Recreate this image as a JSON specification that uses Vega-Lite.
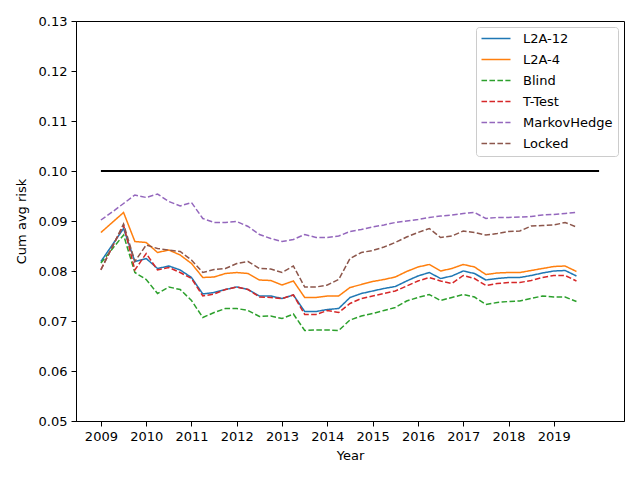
{
  "$schema": "https://vega.github.io/schema/vega-lite/v6.json",
  "width": 548,
  "height": 400,
  "autosize": "none",
  "padding": {"left": 76, "top": 21, "right": 16, "bottom": 59},
  "config": {
    "font": "DejaVu Sans",
    "view": {"stroke": "black", "strokeWidth": 1},
    "axis": {
      "grid": false,
      "domainColor": "black",
      "tickColor": "black",
      "labelColor": "black",
      "titleColor": "black",
      "labelFontSize": 13,
      "titleFontSize": 13,
      "titleFontWeight": "normal",
      "tickSize": 5,
      "labelPadding": 4,
      "labelFont": "DejaVu Sans",
      "titleFont": "DejaVu Sans"
    },
    "legend": {
      "orient": "top-right",
      "offset": 6,
      "padding": 5,
      "strokeColor": "#cccccc",
      "fillColor": "white",
      "cornerRadius": 3,
      "symbolType": "M-1.2,0H4.6",
      "symbolSize": 100,
      "symbolStrokeWidth": 1.5,
      "labelFontSize": 13,
      "labelFont": "DejaVu Sans",
      "labelColor": "black",
      "rowPadding": 7,
      "labelOffset": 29
    }
  },
  "layer": [
    {
      "data": {"values": [
        {"year": 2009.00, "L2A-12": 0.0819, "L2A-4": 0.0877, "Blind": 0.0816, "T-Test": 0.0803, "MarkovHedge": 0.0902, "Locked": 0.0802},
        {"year": 2009.25, "L2A-12": 0.0852, "L2A-4": 0.0897, "Blind": 0.0844, "T-Test": 0.0848, "MarkovHedge": 0.0918, "Locked": 0.0848},
        {"year": 2009.50, "L2A-12": 0.0885, "L2A-4": 0.0917, "Blind": 0.0872, "T-Test": 0.0892, "MarkovHedge": 0.0935, "Locked": 0.0894},
        {"year": 2009.75, "L2A-12": 0.0819, "L2A-4": 0.0859, "Blind": 0.0797, "T-Test": 0.0802, "MarkovHedge": 0.0952, "Locked": 0.0819},
        {"year": 2010.00, "L2A-12": 0.0825, "L2A-4": 0.0857, "Blind": 0.0783, "T-Test": 0.0835, "MarkovHedge": 0.0947, "Locked": 0.0852},
        {"year": 2010.25, "L2A-12": 0.0805, "L2A-4": 0.0837, "Blind": 0.0755, "T-Test": 0.0802, "MarkovHedge": 0.0954, "Locked": 0.0845},
        {"year": 2010.50, "L2A-12": 0.0810, "L2A-4": 0.0842, "Blind": 0.0768, "T-Test": 0.0807, "MarkovHedge": 0.0939, "Locked": 0.0842},
        {"year": 2010.75, "L2A-12": 0.0802, "L2A-4": 0.0832, "Blind": 0.0763, "T-Test": 0.0797, "MarkovHedge": 0.0930, "Locked": 0.0839},
        {"year": 2011.00, "L2A-12": 0.0787, "L2A-4": 0.0815, "Blind": 0.0741, "T-Test": 0.0785, "MarkovHedge": 0.0937, "Locked": 0.0822},
        {"year": 2011.25, "L2A-12": 0.0754, "L2A-4": 0.0787, "Blind": 0.0707, "T-Test": 0.0750, "MarkovHedge": 0.0905, "Locked": 0.0797},
        {"year": 2011.50, "L2A-12": 0.0757, "L2A-4": 0.0788, "Blind": 0.0717, "T-Test": 0.0754, "MarkovHedge": 0.0897, "Locked": 0.0803},
        {"year": 2011.75, "L2A-12": 0.0763, "L2A-4": 0.0795, "Blind": 0.0725, "T-Test": 0.0763, "MarkovHedge": 0.0897, "Locked": 0.0805},
        {"year": 2012.00, "L2A-12": 0.0768, "L2A-4": 0.0797, "Blind": 0.0725, "T-Test": 0.0768, "MarkovHedge": 0.0899, "Locked": 0.0815},
        {"year": 2012.25, "L2A-12": 0.0763, "L2A-4": 0.0795, "Blind": 0.0721, "T-Test": 0.0763, "MarkovHedge": 0.0889, "Locked": 0.0819},
        {"year": 2012.50, "L2A-12": 0.0750, "L2A-4": 0.0782, "Blind": 0.0709, "T-Test": 0.0748, "MarkovHedge": 0.0873, "Locked": 0.0805},
        {"year": 2012.75, "L2A-12": 0.0750, "L2A-4": 0.0781, "Blind": 0.0710, "T-Test": 0.0747, "MarkovHedge": 0.0865, "Locked": 0.0804},
        {"year": 2013.00, "L2A-12": 0.0745, "L2A-4": 0.0772, "Blind": 0.0705, "T-Test": 0.0745, "MarkovHedge": 0.0859, "Locked": 0.0797},
        {"year": 2013.25, "L2A-12": 0.0752, "L2A-4": 0.0780, "Blind": 0.0714, "T-Test": 0.0752, "MarkovHedge": 0.0863, "Locked": 0.0810},
        {"year": 2013.50, "L2A-12": 0.0719, "L2A-4": 0.0747, "Blind": 0.0681, "T-Test": 0.0713, "MarkovHedge": 0.0873, "Locked": 0.0768},
        {"year": 2013.75, "L2A-12": 0.0719, "L2A-4": 0.0747, "Blind": 0.0682, "T-Test": 0.0713, "MarkovHedge": 0.0867, "Locked": 0.0768},
        {"year": 2014.00, "L2A-12": 0.0723, "L2A-4": 0.0750, "Blind": 0.0682, "T-Test": 0.0721, "MarkovHedge": 0.0867, "Locked": 0.0772},
        {"year": 2014.25, "L2A-12": 0.0725, "L2A-4": 0.0750, "Blind": 0.0681, "T-Test": 0.0717, "MarkovHedge": 0.0870, "Locked": 0.0783},
        {"year": 2014.50, "L2A-12": 0.0747, "L2A-4": 0.0767, "Blind": 0.0702, "T-Test": 0.0735, "MarkovHedge": 0.0879, "Locked": 0.0825},
        {"year": 2014.75, "L2A-12": 0.0755, "L2A-4": 0.0773, "Blind": 0.0710, "T-Test": 0.0745, "MarkovHedge": 0.0883, "Locked": 0.0837},
        {"year": 2015.00, "L2A-12": 0.0760, "L2A-4": 0.0779, "Blind": 0.0715, "T-Test": 0.0750, "MarkovHedge": 0.0888, "Locked": 0.0841},
        {"year": 2015.25, "L2A-12": 0.0765, "L2A-4": 0.0783, "Blind": 0.0721, "T-Test": 0.0755, "MarkovHedge": 0.0892, "Locked": 0.0848},
        {"year": 2015.50, "L2A-12": 0.0769, "L2A-4": 0.0788, "Blind": 0.0727, "T-Test": 0.0760, "MarkovHedge": 0.0897, "Locked": 0.0857},
        {"year": 2015.75, "L2A-12": 0.0780, "L2A-4": 0.0799, "Blind": 0.0740, "T-Test": 0.0770, "MarkovHedge": 0.0900, "Locked": 0.0868},
        {"year": 2016.00, "L2A-12": 0.0790, "L2A-4": 0.0808, "Blind": 0.0747, "T-Test": 0.0780, "MarkovHedge": 0.0903, "Locked": 0.0877},
        {"year": 2016.25, "L2A-12": 0.0797, "L2A-4": 0.0813, "Blind": 0.0753, "T-Test": 0.0787, "MarkovHedge": 0.0907, "Locked": 0.0885},
        {"year": 2016.50, "L2A-12": 0.0785, "L2A-4": 0.0800, "Blind": 0.0741, "T-Test": 0.0780, "MarkovHedge": 0.0910, "Locked": 0.0867},
        {"year": 2016.75, "L2A-12": 0.0790, "L2A-4": 0.0805, "Blind": 0.0747, "T-Test": 0.0775, "MarkovHedge": 0.0912, "Locked": 0.0870},
        {"year": 2017.00, "L2A-12": 0.0800, "L2A-4": 0.0813, "Blind": 0.0753, "T-Test": 0.0791, "MarkovHedge": 0.0915, "Locked": 0.0880},
        {"year": 2017.25, "L2A-12": 0.0795, "L2A-4": 0.0808, "Blind": 0.0748, "T-Test": 0.0785, "MarkovHedge": 0.0917, "Locked": 0.0877},
        {"year": 2017.50, "L2A-12": 0.0782, "L2A-4": 0.0793, "Blind": 0.0733, "T-Test": 0.0771, "MarkovHedge": 0.0905, "Locked": 0.0872},
        {"year": 2017.75, "L2A-12": 0.0785, "L2A-4": 0.0796, "Blind": 0.0737, "T-Test": 0.0775, "MarkovHedge": 0.0907, "Locked": 0.0875},
        {"year": 2018.00, "L2A-12": 0.0787, "L2A-4": 0.0797, "Blind": 0.0739, "T-Test": 0.0777, "MarkovHedge": 0.0907, "Locked": 0.0879},
        {"year": 2018.25, "L2A-12": 0.0787, "L2A-4": 0.0797, "Blind": 0.0740, "T-Test": 0.0777, "MarkovHedge": 0.0908, "Locked": 0.0880},
        {"year": 2018.50, "L2A-12": 0.0791, "L2A-4": 0.0801, "Blind": 0.0745, "T-Test": 0.0781, "MarkovHedge": 0.0909, "Locked": 0.0890},
        {"year": 2018.75, "L2A-12": 0.0796, "L2A-4": 0.0805, "Blind": 0.0750, "T-Test": 0.0787, "MarkovHedge": 0.0912, "Locked": 0.0891},
        {"year": 2019.00, "L2A-12": 0.0800, "L2A-4": 0.0809, "Blind": 0.0748, "T-Test": 0.0791, "MarkovHedge": 0.0913, "Locked": 0.0892},
        {"year": 2019.25, "L2A-12": 0.0801, "L2A-4": 0.0810, "Blind": 0.0748, "T-Test": 0.0791, "MarkovHedge": 0.0915, "Locked": 0.0897},
        {"year": 2019.50, "L2A-12": 0.0790, "L2A-4": 0.0799, "Blind": 0.0739, "T-Test": 0.0780, "MarkovHedge": 0.0917, "Locked": 0.0888}
      ]},
      "transform": [
        {"fold": ["L2A-12", "L2A-4", "Blind", "T-Test", "MarkovHedge", "Locked"], "as": ["method", "risk"]}
      ],
      "mark": {"type": "line", "strokeWidth": 1.5, "clip": true},
      "encoding": {
        "x": {
          "field": "year", "type": "quantitative",
          "scale": {"domain": [2008.45, 2020.55], "nice": false, "zero": false},
          "axis": {"title": "Year", "values": [2009, 2010, 2011, 2012, 2013, 2014, 2015, 2016, 2017, 2018, 2019], "format": "d", "titlePadding": 6}
        },
        "y": {
          "field": "risk", "type": "quantitative",
          "scale": {"domain": [0.05, 0.13], "nice": false, "zero": false},
          "axis": {"title": "Cum avg risk", "values": [0.05, 0.06, 0.07, 0.08, 0.09, 0.1, 0.11, 0.12, 0.13], "format": ".2f", "titlePadding": 10}
        },
        "color": {
          "field": "method", "type": "nominal", "title": null,
          "scale": {
            "domain": ["L2A-12", "L2A-4", "Blind", "T-Test", "MarkovHedge", "Locked"],
            "range": ["#1f77b4", "#ff7f0e", "#2ca02c", "#d62728", "#9467bd", "#8c564b"]
          }
        },
        "strokeDash": {
          "field": "method", "type": "nominal", "title": null,
          "scale": {
            "domain": ["L2A-12", "L2A-4", "Blind", "T-Test", "MarkovHedge", "Locked"],
            "range": [[1, 0], [1, 0], [5.55, 2.4], [5.55, 2.4], [5.55, 2.4], [5.55, 2.4]]
          }
        }
      }
    },
    {
      "data": {"values": [{"year": 2009, "risk": 0.1}, {"year": 2020, "risk": 0.1}]},
      "mark": {"type": "line", "color": "black", "strokeWidth": 2},
      "encoding": {
        "x": {"field": "year", "type": "quantitative"},
        "y": {"field": "risk", "type": "quantitative"}
      }
    }
  ]
}
